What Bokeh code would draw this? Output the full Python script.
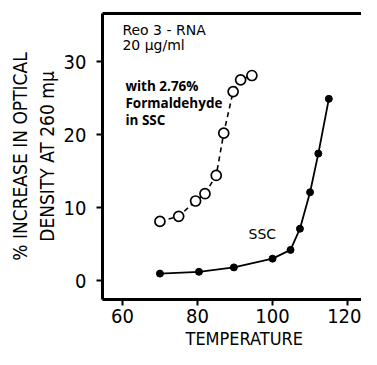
from bokeh.plotting import figure
from bokeh.models import Range1d, FixedTicker, LinearAxis, Label, Title
from bokeh.embed import file_html
from bokeh.resources import INLINE

# Data
form_temp = [70, 75, 79.5, 82, 85, 87, 89.5, 91.5, 94.5]
form_val = [8.1, 8.8, 10.9, 11.9, 14.4, 20.2, 25.9, 27.5, 28.1]
ssc_temp = [70, 80.4, 89.7, 100, 104.8, 107.3, 110, 112.2, 115]
ssc_val = [0.95, 1.2, 1.8, 3.0, 4.2, 7.1, 12.1, 17.4, 24.9]
x_ticks = [60, 80, 100, 120]
y_ticks = [0, 10, 20, 30]

TICK_FONT = "'DejaVu Sans Condensed', 'Roboto', sans-serif"
TXT_FONT = "DejaVu Sans"

p = figure(width=361, height=349, output_backend="svg", toolbar_location=None,
           x_range=Range1d(54.7, 123.7), y_range=Range1d(-2.6, 36.6),
           min_border_left=102, min_border_right=0, min_border_top=13, min_border_bottom=50)
p.outline_line_color = None
p.grid.visible = False
p.background_fill_color = "white"

for ax in (p.xaxis[0], p.yaxis[0]):
    ax.axis_line_width = 3
    ax.axis_line_color = "black"
    ax.major_tick_line_width = 2
    ax.major_tick_in = 0
    ax.major_tick_out = 6
    ax.minor_tick_line_color = None
    ax.major_label_text_font = TICK_FONT
    ax.major_label_text_color = "black"
    ax.axis_label_text_font = TICK_FONT
    ax.axis_label_text_font_style = "normal"
    ax.axis_label_text_color = "black"

p.xaxis.ticker = FixedTicker(ticks=x_ticks)
p.yaxis.ticker = FixedTicker(ticks=y_ticks)
p.xaxis.major_label_text_font_size = "20px"
p.yaxis.major_label_text_font_size = "20px"
p.xaxis.major_label_standoff = 3
p.yaxis.major_label_standoff = 10
p.yaxis.axis_label = "% INCREASE IN OPTICAL\nDENSITY AT 260 m\u03bc"
p.yaxis.axis_label_text_font_size = "19px"
p.yaxis.axis_label_standoff = 3

xtitle = Title(text="TEMPERATURE", align="left", offset=83, standoff=0,
               text_font=TICK_FONT, text_font_size="18px", text_font_style="normal",
               text_color="black")
p.add_layout(xtitle, "below")

top = LinearAxis(ticker=FixedTicker(ticks=[]), axis_line_width=3,
                 major_tick_out=0, major_tick_in=0, minor_tick_line_color=None,
                 major_label_text_font_size="0px")
p.add_layout(top, "above")

# Formaldehyde curve
p.line(form_temp, form_val, line_color="black", line_width=1.6, line_dash="5 4")
p.scatter(form_temp, form_val, size=10, fill_color="white", line_color="black", line_width=1.7)

# SSC curve
p.line(ssc_temp, ssc_val, line_color="black", line_width=1.8)
p.scatter(ssc_temp, ssc_val, size=7, fill_color="black", line_color="black")

labels = [
    ("Reo 3 - RNA", 60.0, 34.3, "14px", "normal", TXT_FONT),
    ("20 \u03bcg/ml", 60.0, 32.3, "14px", "normal", TXT_FONT),
    ("with 2.76%", 60.8, 26.7, "13.5px", "bold", "Open Sans"),
    ("Formaldehyde", 60.8, 24.3, "13.5px", "bold", "Open Sans"),
    ("in SSC", 60.8, 22.0, "13.5px", "bold", "Open Sans"),
    ("SSC", 93.6, 6.4, "14px", "normal", TXT_FONT),
]
for txt, x, y, fs, st, fnt in labels:
    p.add_layout(Label(x=x, y=y, text=txt, text_font=fnt, text_font_size=fs,
                       text_font_style=st, text_baseline="middle", text_align="left",
                       text_color="black"))

open("out.html", "w").write(file_html(p, INLINE))
